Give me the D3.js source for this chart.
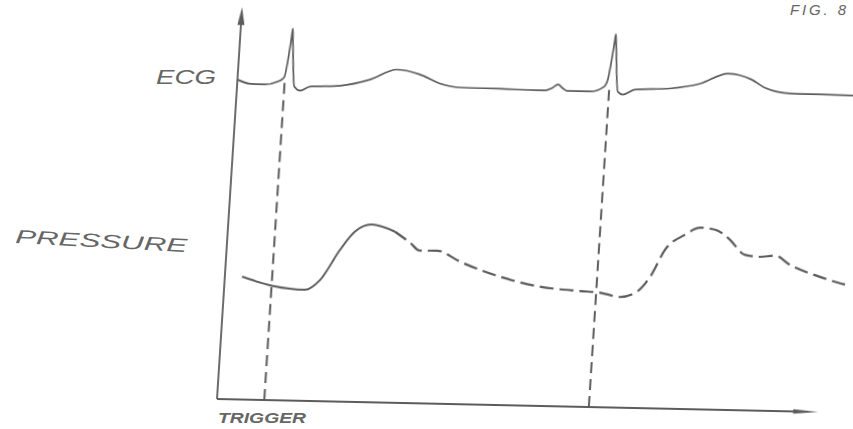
<!DOCTYPE html>
<html>
<head>
<meta charset="utf-8">
<script src="https://cdn.jsdelivr.net/npm/d3@7"></script>
<style>
  body { margin: 0; background: #fff; }
  text { font-family: "Liberation Sans", sans-serif; fill: #666; }
</style>
</head>
<body>
<div id="chart"></div>
<script>
// time in seconds, amplitude in arbitrary units (0-100)
const ecgTime = [0.000, 0.032, 0.069, 0.101, 0.116, 0.128, 0.130, 0.132, 0.143, 0.158, 0.182, 0.257, 0.330, 0.396,
                 0.454, 0.505, 0.556, 0.656, 0.768, 0.786, 0.800, 0.813, 0.824, 0.881, 0.915, 0.923, 0.934, 0.936,
                 0.938, 0.950, 0.963, 0.992, 1.079, 1.154, 1.222, 1.282, 1.316, 1.379, 1.454, 1.537];
const ecgValue = [81.5, 80.5, 80.4, 81.2, 82.3, 92.3, 94.8, 92.0, 80.0, 79.0, 80.1, 80.5, 82.2, 84.9,
                  83.8, 81.6, 80.7, 80.6, 80.4, 81.1, 82.0, 81.0, 80.4, 80.4, 81.7, 83.5, 93.0, 95.1,
                  93.0, 80.5, 79.8, 81.1, 81.6, 83.0, 85.7, 84.3, 82.3, 81.0, 80.9, 80.8];

// recorded part of the pressure trace (solid)
const pressureTime = [0.043, 0.122, 0.202, 0.238, 0.283, 0.317, 0.358, 0.417];
const pressureValue = [31.3, 29.1, 28.3, 30.9, 38.7, 43.4, 45.3, 43.6];

// extrapolated part of the pressure trace (dashed)
const pressureTime2 = [0.417, 0.456, 0.482, 0.525, 0.584, 0.686, 0.787, 0.888, 0.938, 0.988, 1.025, 1.060, 1.093,
                       1.140, 1.177, 1.214, 1.253, 1.293, 1.331, 1.368, 1.407, 1.484, 1.547];
const pressureValue2 = [43.6, 40.9, 38.9, 39.0, 36.3, 32.7, 30.4, 29.5, 29.2, 28.2, 29.3, 33.5, 40.5,
                        44.4, 46.3, 45.9, 43.4, 39.6, 39.2, 39.6, 37.3, 34.4, 32.6];

const triggerTimes = [0.118, 0.928];
const triggerTops = [82, 81];

const labels = ["ECG", "PRESSURE", "TRIGGER"];

const W = 853, H = 429;
const ink = "#5c5c5c";

const svg = d3.select("#chart")
    .append("svg")
    .attr("width", W)
    .attr("height", H);

const defs = svg.append("defs");
defs.append("filter").attr("id", "soft")
    .append("feGaussianBlur").attr("stdDeviation", 0.45);

// the hand drawn axes are slightly skewed
const plot = svg.append("g")
    .attr("transform", "matrix(1,0.0216,-0.064,1,217,399)")
    .attr("filter", "url(#soft)");

const xScale = d3.scaleLinear().domain([0, 1.5]).range([0, 601]);
const yScale = d3.scaleLinear().domain([0, 100]).range([0, -392]);

//Axes
plot.append("line")
    .attr("x1", xScale(0)).attr("y1", yScale(0))
    .attr("x2", xScale(0)).attr("y2", yScale(96))
    .attr("stroke", ink).attr("stroke-width", 1.8);

plot.append("line")
    .attr("x1", xScale(0)).attr("y1", yScale(0))
    .attr("x2", xScale(1.44)).attr("y2", yScale(0))
    .attr("stroke", ink).attr("stroke-width", 1.8);

//Arrow heads
plot.append("path")
    .attr("d", `M${xScale(0)},${yScale(100)} L${xScale(0) + 3.5},${yScale(95.4)} L${xScale(0) - 3.5},${yScale(95.4)} Z`)
    .attr("fill", ink);

plot.append("path")
    .attr("d", `M${xScale(1.5)},${yScale(0)} L${xScale(1.438)},${yScale(0) - 2.2} L${xScale(1.438)},${yScale(0) + 2.2} Z`)
    .attr("fill", ink);

const line = d3.line()
    .x(d => xScale(d[0]))
    .y(d => yScale(d[1]))
    .curve(d3.curveMonotoneX);

//ECG trace
plot.append("path")
    .datum(d3.zip(ecgTime, ecgValue))
    .attr("fill", "none")
    .attr("stroke", ink)
    .attr("stroke-width", 1.7)
    .attr("stroke-linejoin", "round")
    .attr("d", line);

//Pressure traces
plot.append("path")
    .datum(d3.zip(pressureTime, pressureValue))
    .attr("fill", "none")
    .attr("stroke", ink)
    .attr("stroke-width", 2)
    .attr("d", line);

plot.append("path")
    .datum(d3.zip(pressureTime2, pressureValue2))
    .attr("fill", "none")
    .attr("stroke", ink)
    .attr("stroke-width", 2.2)
    .attr("stroke-dasharray", "14,6")
    .attr("d", line);

//Trigger lines
plot.selectAll(".trigger")
    .data(d3.zip(triggerTimes, triggerTops))
    .enter()
    .append("line")
    .attr("class", "trigger")
    .attr("x1", d => xScale(d[0])).attr("y1", yScale(0))
    .attr("x2", d => xScale(d[0])).attr("y2", d => yScale(d[1]))
    .attr("stroke", ink)
    .attr("stroke-width", 2)
    .attr("stroke-dasharray", "11,6");

//Labels
svg.append("text")
    .attr("x", 156).attr("y", 84)
    .attr("textLength", 60)
    .attr("lengthAdjust", "spacingAndGlyphs")
    .style("font-size", "21px")
    .style("font-style", "italic")
    .text(labels[0]);

svg.append("text")
    .attr("transform", "translate(15,243) rotate(3)")
    .attr("textLength", 172)
    .attr("lengthAdjust", "spacingAndGlyphs")
    .style("font-size", "19px")
    .style("font-style", "italic")
    .text(labels[1]);

svg.append("text")
    .attr("x", 218).attr("y", 423)
    .attr("textLength", 88)
    .attr("lengthAdjust", "spacingAndGlyphs")
    .style("font-size", "14px")
    .style("font-style", "italic")
    .style("font-weight", "bold")
    .text(labels[2]);

//Figure number
svg.append("text")
    .attr("x", 790).attr("y", 15)
    .attr("textLength", 56)
    .attr("lengthAdjust", "spacing")
    .style("font-size", "15px")
    .style("font-style", "italic")
    .text("FIG. 8");
</script>
</body>
</html>
